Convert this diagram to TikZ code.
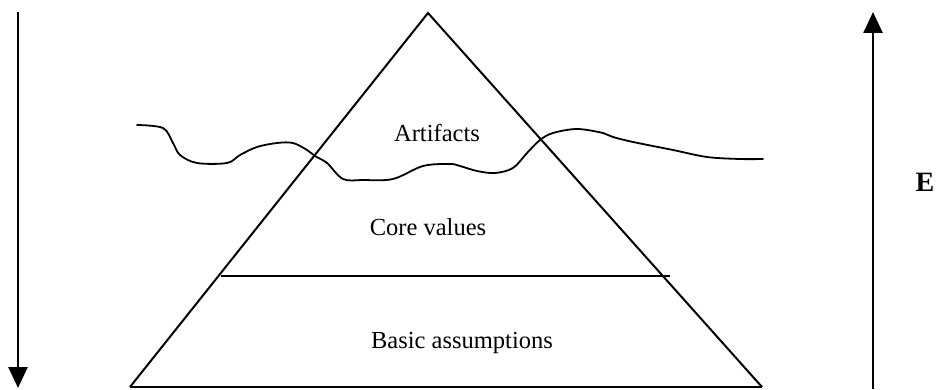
\documentclass[tikz,border=0pt]{standalone}
\usepackage{fontspec}
\setmainfont{Liberation Serif}
\usetikzlibrary{arrows.meta}
\begin{document}
\begin{tikzpicture}[x=1pt,y=-1pt,
  edge/.style={line width=2pt,line join=miter},
  basel/.style={line width=2.6pt},
  midl/.style={line width=2.2pt},
  wave/.style={line width=1.8pt,line cap=round,line join=round},
  bigarrow/.style={line width=2.6pt,-{Triangle[width=19pt,length=21pt]}},
  lbl/.style={font=\fontsize{24.5}{28}\selectfont,anchor=base,inner sep=0pt},
  elbl/.style={font=\fontsize{28}{32}\selectfont\bfseries,anchor=base,inner sep=0pt}]
\useasboundingbox (0,0) rectangle (936,390);
% pyramid corners
\coordinate (apex) at (428,13);
\coordinate (bl) at (130,387);
\coordinate (br) at (762,387);
\coordinate (ml) at (221,276);
\coordinate (mr) at (670,276);
\draw[edge] (bl) -- (apex) -- (br);
\draw[basel] (bl) -- (br);
\draw[midl] (ml) -- (mr);
% wavy water line
\draw[wave] plot[smooth,tension=0.55] coordinates {
 (137,125) (163,128) (173,143) (180,155) (197,163) (227,163) (240,155)
 (257,147) (277,143) (293,143) (307,150) (315,156) (327,163) (343,179)
 (363,180) (393,179) (423,166) (450,164) (460,166) (477,171) (495,173)
 (513,168) (527,153) (540,140) (553,133) (577,129) (603,133) (613,137)
 (633,142) (673,150) (707,157) (740,159) (763,159)};
% arrows
\coordinate (ltop) at (18,12);
\coordinate (lbot) at (18,388);
\coordinate (rbot) at (873,389);
\coordinate (rtop) at (873,12);
\draw[bigarrow] (ltop) -- (lbot);
\draw[bigarrow] (rbot) -- (rtop);
% labels
\node[lbl] (art) at (437,142) {Artifacts};
\node[lbl] (core) at (428,235) {Core values};
\node[lbl] (basic) at (462,348) {Basic assumptions};
\node[elbl] (e) at (925,192) {E};
\end{tikzpicture}
\end{document}
